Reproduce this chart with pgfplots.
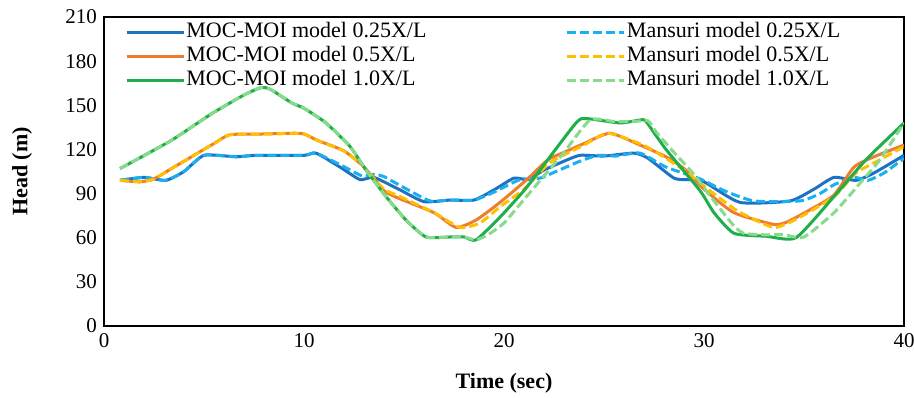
\documentclass[border=0pt]{standalone}
\usepackage{pgfplots}
\pgfplotsset{compat=1.18}
\usepackage{fontspec}
\setmainfont{Liberation Serif}
\definecolor{cBlue}{HTML}{1F72C3}
\definecolor{cOrange}{HTML}{ED7D31}
\definecolor{cGreen}{HTML}{1FAE4A}
\definecolor{cLBlue}{HTML}{18B0EE}
\definecolor{cYellow}{HTML}{FFC000}
\definecolor{cLGreen}{HTML}{86DB8C}
\begin{document}
\begin{tikzpicture}
\useasboundingbox (0,0) rectangle (457bp,199bp);
\begin{axis}[
  at={(52bp,36bp)}, anchor=south west, scale only axis,
  width=400bp, height=154.5bp,
  xmin=0, xmax=40, ymin=0, ymax=210,
  xtick={0,10,20,30,40}, ytick={0,30,60,90,120,150,180,210},
  major tick length=0pt,
  axis line style={line width=1bp},
  /pgf/number format/assume math mode=true,
  xticklabel={\pgfmathprintnumber{\tick}},
  yticklabel={\pgfmathprintnumber{\tick}},
  tick label style={font=\fontsize{10.5bp}{12bp}\selectfont},
  xlabel={Time (sec)}, ylabel={Head (m)},
  label style={font=\fontsize{11bp}{13bp}\selectfont\bfseries},
  xlabel style={at={(axis description cs:0.5,-0.185)}, anchor=center},
  ylabel style={at={(axis description cs:-0.1025,0.5)}, anchor=center},
  legend columns=2,
  legend cell align=left,
  legend image code/.code={\draw[#1] (0bp,0bp) -- (28.5bp,0bp);},
  legend style={at={(rel axis cs:0.026,0.99)}, anchor=north west, draw=none, fill=none,
    inner sep=0pt, row sep=0pt,
    font=\fontsize{11bp}{11bp}\selectfont,
    nodes={inner sep=0.6bp, text height=8bp, text depth=2.8bp},
    /tikz/every even column/.append style={column sep=69bp}},
  every axis plot/.append style={line width=1.5bp, smooth, tension=0.35},
]
% MOC-MOI 0.25
\addplot[cBlue] coordinates {
(0.8,99) (2,101) (3.1,99) (4,105) (5,116) (6.6,115) (7.6,116) (10,116) (10.6,117.5)
(11.8,108) (12.8,99.5) (13.5,101) (14.8,92.5) (16,84.5) (17.3,85.6) (18.5,85.6)
(19.5,92.5) (20.5,100.5) (21.2,99.5) (22,106) (23,112) (23.8,116) (25,115.5)
(26.5,117.5) (27.2,114) (28.5,100.5) (29.2,99.5) (30,98) (31.8,84) (34.3,85)
(35.5,93) (36.5,101) (37.6,99) (38.5,104) (40,116)};
\addlegendentry{MOC-MOI model 0.25X/L}
% Mansuri 0.25
\addplot[cLBlue, dash pattern=on 4.5bp off 2bp] coordinates {
(0.8,99) (2,101) (3.1,99) (4,105) (5,116) (6.6,115) (7.6,116) (10,116) (10.6,117.5)
(11.9,109) (12.9,102) (13.5,103) (14,101.5) (15,94) (16.3,85) (17.3,85.6) (18.5,85.6)
(19.5,91) (20.8,99.5) (21.8,100.5) (22.6,105) (23.8,112) (24.7,116) (25.6,115.5)
(26.8,117.5) (28.1,108) (29.8,100) (31,92) (32.5,85) (34.8,85) (35.8,90) (36.5,96)
(37.5,101) (38.2,99) (39,104) (40,114)};
\addlegendentry{Mansuri model 0.25X/L}
% MOC-MOI 0.5
\addplot[cOrange] coordinates {
(0.8,99) (1.8,98) (2.5,100) (3.5,108) (4.5,116) (5.5,124) (6.3,130) (8,130.5)
(9.5,131) (10,130.5) (10.7,126) (12,119) (13,108) (14,92) (14.7,87) (16.5,77)
(17.6,67) (18.6,72) (19.8,84) (21.1,99) (22.2,113) (23,118) (24,124) (25.3,131)
(26.8,123) (28.1,115) (29,107) (30,93) (31.5,77) (33.5,69) (34.2,71) (35.3,79)
(36.5,89) (37.5,108) (38.5,115) (40,123)};
\addlegendentry{MOC-MOI model 0.5X/L}
% Mansuri 0.5
\addplot[cYellow, dash pattern=on 4.5bp off 2bp] coordinates {
(0.8,99) (1.8,98) (2.5,100) (3.5,108) (4.5,116) (5.5,124) (6.3,130) (8,130.5)
(9.5,131) (10,130.5) (10.7,126) (12,119) (13,108) (14,93) (14.8,88) (16.5,77)
(17.8,67) (18.8,70) (19.8,81) (21,93) (22.3,111) (24,123) (25.2,131) (27.1,122)
(29,106) (30.2,93) (31.7,78) (33.5,67) (34.8,74) (36.5,88) (37.6,104) (38.8,113)
(40,122)};
\addlegendentry{Mansuri model 0.5X/L}
% MOC-MOI 1.0
\addplot[cGreen] coordinates {
(0.8,107) (3.35,126) (5.35,144) (7,157) (7.85,162) (8.3,161) (9.4,151.5) (10,148)
(11.1,138) (12.3,122) (13.1,106) (14.1,88) (15.1,72) (16.1,60.5) (17.3,60.5)
(18,60.5) (18.6,58.5) (19.8,74) (21,92) (21.8,106) (23.6,138) (24.1,141) (25.8,138)
(26.8,140) (27.1,139) (28.1,120) (29.8,92) (30.5,77) (31.5,63) (33.1,61) (34.6,60)
(36.5,88) (38.1,113) (40,138)};
\addlegendentry{MOC-MOI model 1.0X/L}
% Mansuri 1.0
\addplot[cLGreen, dash pattern=on 4.5bp off 2bp] coordinates {
(0.8,107) (3.35,126) (5.35,144) (7,157) (7.85,162) (8.3,161) (9.4,151.5) (10,148)
(11.1,138) (12.3,122) (13.1,106) (14.1,88) (15.1,72) (16.1,60.5) (17.3,60.5)
(18,60.5) (18.6,58.5) (19.2,62) (20,70) (21,86) (22,102) (23,118) (24.3,140)
(25.5,139) (26.5,139) (27.2,139.5) (27.6,132) (28.5,118) (29.5,103) (30.5,85)
(31.5,68) (32,63) (33,62) (34,62) (35,60.5) (36.5,77) (37.8,97) (38.8,113) (40,138)};
\addlegendentry{Mansuri model 1.0X/L}
\end{axis}
\end{tikzpicture}
\end{document}
